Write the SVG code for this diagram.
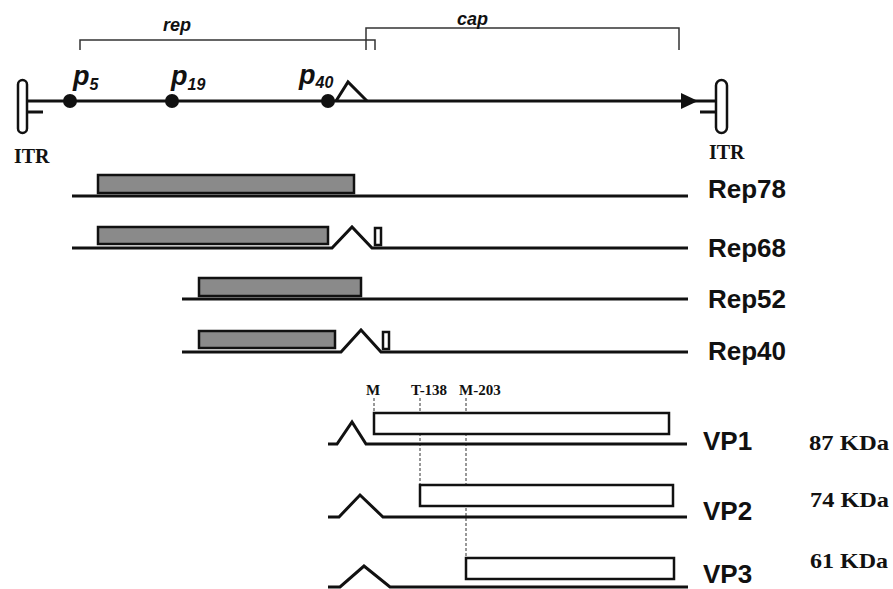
<svg xmlns="http://www.w3.org/2000/svg" width="893" height="589" viewBox="0 0 893 589">
<defs>
<style>
.ln{stroke:#111;stroke-width:3;fill:none;stroke-linejoin:miter}
.thin{stroke:#333;stroke-width:1.5;fill:none}
.box{fill:#8a8a8a;stroke:#111;stroke-width:2.5}
.obox{fill:#fff;stroke:#111;stroke-width:2.5}
.dash{stroke:#333;stroke-width:1;stroke-dasharray:3,2;fill:none}
.itr{fill:#fff;stroke:#111;stroke-width:2.5}
.lbl{font-family:"Liberation Sans",Arial,sans-serif;font-weight:bold;font-size:26px;fill:#111}
.it{font-family:"Liberation Sans",Arial,sans-serif;font-weight:bold;font-style:italic;fill:#111}
.ser{font-family:"Liberation Serif","Times New Roman",serif;font-weight:bold;fill:#111}
.kda{font-family:"Liberation Serif","Times New Roman",serif;font-weight:bold;font-size:21px;fill:#111}
</style>
</defs>

<g id="brackets">
<path class="thin" d="M80,50 V40 H375 V50"/>
<path class="thin" d="M366,50 V28 H679 V50"/>
<text class="it" x="163" y="31" font-size="18">rep</text>
<text class="it" x="457" y="25" font-size="18">cap</text>
</g>

<g id="genome">
<line class="ln" x1="27" y1="101" x2="697" y2="101"/>
<path d="M681,93 L698,101 L681,109 Z" fill="#111"/>
<line class="ln" x1="697" y1="101" x2="716" y2="101"/>
<path class="ln" d="M336,101 L348,82 L367,101"/>
</g>

<g id="itr-left">
<rect class="itr" x="18" y="80" width="9" height="53" rx="4.5"/>
<line class="ln" x1="27" y1="112" x2="43" y2="112"/>
<text class="ser" x="14" y="163" font-size="20">ITR</text>
</g>

<g id="itr-right">
<rect class="itr" x="716" y="80" width="11" height="53" rx="5.5"/>
<line class="ln" x1="700" y1="112" x2="716" y2="112"/>
<text class="ser" x="709" y="159" font-size="20">ITR</text>
</g>

<g id="p5">
<circle cx="70" cy="101" r="7" fill="#111"/>
<text class="it" x="73" y="85" font-size="27">p<tspan font-size="16" dy="5">5</tspan></text>
</g>
<g id="p19">
<circle cx="172" cy="101" r="7" fill="#111"/>
<text class="it" x="171" y="85" font-size="27">p<tspan font-size="16" dy="5">19</tspan></text>
</g>
<g id="p40">
<circle cx="328" cy="101" r="7" fill="#111"/>
<text class="it" x="299" y="84" font-size="27">p<tspan font-size="16" dy="4">40</tspan></text>
</g>

<g id="rep78">
<line class="ln" x1="72" y1="196" x2="688" y2="196"/>
<rect class="box" x="98" y="175" width="256" height="18"/>
<text class="lbl" x="708" y="198">Rep78</text>
</g>

<g id="rep68">
<path class="ln" d="M72,248 H332 L352,227 L372,248 H688"/>
<rect class="box" x="98" y="227" width="230" height="17"/>
<rect class="obox" x="375" y="228" width="6" height="17"/>
<text class="lbl" x="708" y="257">Rep68</text>
</g>

<g id="rep52">
<line class="ln" x1="182" y1="299" x2="688" y2="299"/>
<rect class="box" x="199" y="278" width="162" height="18"/>
<text class="lbl" x="708" y="308">Rep52</text>
</g>

<g id="rep40">
<path class="ln" d="M182,352 H341 L361,330 L381,352 H688"/>
<rect class="box" x="199" y="331" width="136" height="17"/>
<rect class="obox" x="383" y="332" width="6" height="17"/>
<text class="lbl" x="708" y="360">Rep40</text>
</g>

<g id="markers">
<text class="ser" x="366" y="395" font-size="15">M</text>
<text class="ser" x="411" y="395" font-size="15">T-138</text>
<text class="ser" x="459" y="395" font-size="15">M-203</text>
<line class="dash" x1="374" y1="398" x2="374" y2="413"/>
<line class="dash" x1="420" y1="398" x2="420" y2="485"/>
<line class="dash" x1="466" y1="398" x2="466" y2="558"/>
</g>

<g id="vp1">
<path class="ln" d="M328,444 H337 L352,422 L366,444 H687"/>
<rect class="obox" x="374" y="413" width="295" height="21"/>
<text class="lbl" x="703" y="450">VP1</text>
<text class="kda" x="809" y="450" textLength="80" lengthAdjust="spacingAndGlyphs">87 KDa</text>
</g>

<g id="vp2">
<path class="ln" d="M328,517 H339 L360,495 L383,517 H687"/>
<rect class="obox" x="420" y="485" width="253" height="21"/>
<text class="lbl" x="703" y="520">VP2</text>
<text class="kda" x="810" y="507" textLength="79" lengthAdjust="spacingAndGlyphs">74 KDa</text>
</g>

<g id="vp3">
<path class="ln" d="M328,587 H340 L364,566 L390,587 H688"/>
<rect class="obox" x="466" y="558" width="208" height="21"/>
<text class="lbl" x="703" y="583">VP3</text>
<text class="kda" x="810" y="568" textLength="78" lengthAdjust="spacingAndGlyphs">61 KDa</text>
</g>
</svg>
